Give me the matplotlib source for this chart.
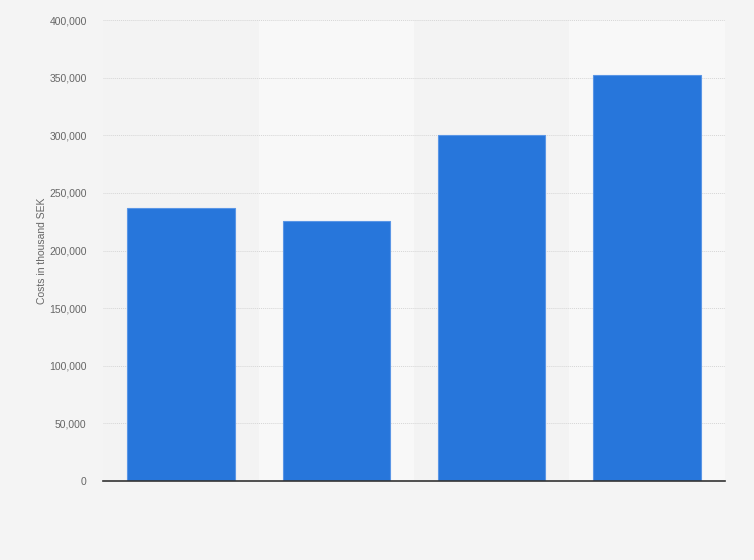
import matplotlib
matplotlib.use('Agg')
import matplotlib.pyplot as plt
from matplotlib.ticker import FuncFormatter

plt.rcParams['font.family'] = ['Liberation Sans', 'DejaVu Sans']

# x labels are not shown in the reference
categories = ['A', 'B', 'C', 'D']
costs = [237000, 226000, 300500, 352500]
y_ticks = [0, 50000, 100000, 150000, 200000, 250000, 300000, 350000, 400000]

fig = plt.figure(figsize=(7.54, 5.6), dpi=100)
fig.patch.set_facecolor('#f4f4f4')
ax = fig.add_axes([0.137, 0.141, 0.824, 0.823])
ax.set_facecolor('#f3f3f3')

x = list(range(len(categories)))

# alternating column bands
for i in x:
    if i % 2 == 1:
        ax.axvspan(i - 0.5, i + 0.5, color='#f8f8f8', zorder=0, lw=0)

ax.bar(x, costs, width=0.69, color='#2776db', edgecolor='#5a96e6',
       linewidth=0.8, zorder=3)

ax.set_xlim(-0.5, len(categories) - 0.5)
ax.set_ylim(0, 400000)
ax.set_yticks(y_ticks)
ax.yaxis.set_major_formatter(FuncFormatter(lambda v, p: f'{int(v):,}'))
ax.set_xticks(x)
ax.set_xticklabels([''] * len(categories))
ax.tick_params(axis='x', length=0)
ax.tick_params(axis='y', length=0, labelsize=7.5, colors='#666666', pad=12)

ax.grid(axis='y', linestyle=(0, (1, 1)), linewidth=0.7, color='#d6d6d6', zorder=1)
ax.set_axisbelow(True)

for side in ['top', 'right', 'left']:
    ax.spines[side].set_visible(False)
ax.spines['bottom'].set_color('#333333')
ax.spines['bottom'].set_linewidth(1.2)
ax.spines['bottom'].set_zorder(4)

ax.set_ylabel('Costs in thousand SEK', fontsize=7.5, color='#666666', labelpad=1.5)

fig.savefig('out.png', dpi=100, facecolor=fig.get_facecolor())
